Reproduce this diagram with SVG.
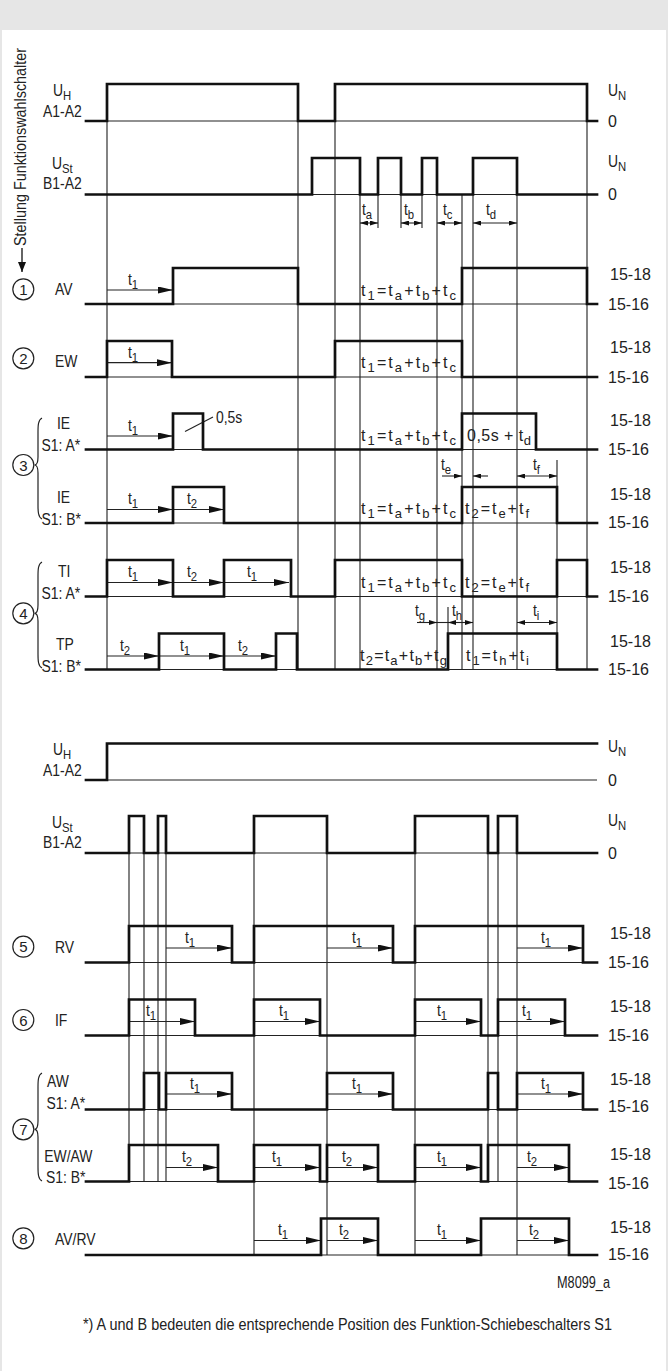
<svg xmlns="http://www.w3.org/2000/svg" width="668" height="1371" viewBox="0 0 668 1371">
<defs>
<style>
.sig{fill:none;stroke:#111;stroke-width:2.7;stroke-linejoin:miter;stroke-linecap:square}
.base{stroke:#222;stroke-width:1.2;fill:none}
.g{stroke:#333;stroke-width:1.2;fill:none}
.ar{stroke:#222;stroke-width:1.2;fill:none;marker-end:url(#a)}
.dm{stroke:#222;stroke-width:1.1;fill:none;marker-start:url(#s);marker-end:url(#s)}
.de{stroke:#222;stroke-width:1.1;fill:none;marker-end:url(#s)}
.ln{stroke:#222;stroke-width:1.1;fill:none}
.c{fill:none;stroke:#222;stroke-width:1.2}
text{font-family:"Liberation Sans",Arial,sans-serif;fill:#222;font-size:16px}
.n{transform-box:fill-box;transform-origin:0 0;transform:scaleX(.87)}
.s{font-size:13px}
.cd{font-size:15px;text-anchor:middle}
</style>
<marker id="a" viewBox="0 0 15 7" markerWidth="15" markerHeight="7" refX="15" refY="3.5" orient="auto" markerUnits="userSpaceOnUse"><path d="M0,0L15,3.5L0,7z" fill="#111"/></marker>
<marker id="s" viewBox="0 0 8 5" markerWidth="8" markerHeight="5" refX="8" refY="2.5" orient="auto-start-reverse" markerUnits="userSpaceOnUse"><path d="M0,0L8,2.5L0,5z" fill="#111"/></marker>
<marker id="dn" viewBox="0 0 10 8" markerWidth="10" markerHeight="8" refX="10" refY="4" orient="auto" markerUnits="userSpaceOnUse"><path d="M0,0L10,4L0,8z" fill="#111"/></marker>
</defs>

<g id="frame">
<rect x="0" y="0" width="668" height="1371" fill="#e6e6e6"/>
<rect x="2" y="30" width="664" height="1341" fill="#ffffff"/>
</g>

<g id="axis-label">
<text transform="translate(26,246) rotate(-90)" font-size="15" textLength="198" lengthAdjust="spacingAndGlyphs">Stellung Funktionswahlschalter</text>
<line x1="22" y1="248" x2="22" y2="272" stroke="#111" stroke-width="1.3" marker-end="url(#dn)"/>
</g>

<g id="connectors">
<path class="g" d="M107,84V669.5M298,84V669.5M335,84V669.5M360,158V669.5M378,158V228M401,158V228M422,158V228M437,158V669.5M462,194.5V669.5M473,158V669.5M517,158V669.5M557,460V669.5M587,84V669.5M448,607V669.5"/>
<path class="g" d="M129,816V1181.5M144,816V1181.5M158,816V1181.5M166,816V1181.5M254,816V1255M327,816V1255M415,816V1255M488,816V1181.5M498,816V1181.5M517,816V1255"/>
<line class="ar" x1="107" y1="290" x2="173" y2="290"/>
<line class="ar" x1="107" y1="362.7" x2="172" y2="362.7"/>
<line class="ar" x1="107" y1="436" x2="173" y2="436"/>
<line class="ar" x1="107" y1="509.5" x2="173" y2="509.5"/>
<line class="ar" x1="173" y1="509.5" x2="224" y2="509.5"/>
<line class="ar" x1="107" y1="582.5" x2="173" y2="582.5"/>
<line class="ar" x1="173" y1="582.5" x2="224" y2="582.5"/>
<line class="ar" x1="224" y1="582.5" x2="289" y2="582.5"/>
<line class="ar" x1="107" y1="656" x2="159" y2="656"/>
<line class="ar" x1="159" y1="656" x2="224" y2="656"/>
<line class="ar" x1="224" y1="656" x2="276" y2="656"/>
<line class="dm" x1="360" y1="223" x2="378" y2="223"/>
<line class="dm" x1="401" y1="223" x2="422" y2="223"/>
<line class="dm" x1="437" y1="223" x2="462" y2="223"/>
<line class="dm" x1="473" y1="223" x2="517" y2="223"/>
<line class="de" x1="442" y1="476" x2="462" y2="476"/>
<line class="de" x1="488" y1="476" x2="473" y2="476"/>
<line class="dm" x1="517" y1="476" x2="557" y2="476"/>
<line class="de" x1="417" y1="622.5" x2="437" y2="622.5"/>
<line class="ln" x1="437" y1="622.5" x2="448" y2="622.5"/>
<line class="dm" x1="448" y1="622.5" x2="473" y2="622.5"/>
<line class="dm" x1="517" y1="622.5" x2="557" y2="622.5"/>
<line class="ln" x1="185" y1="431.5" x2="213" y2="417"/>
<line class="ar" x1="166" y1="948" x2="232" y2="948"/>
<line class="ar" x1="327" y1="948" x2="393" y2="948"/>
<line class="ar" x1="517" y1="948" x2="583" y2="948"/>
<line class="ar" x1="129" y1="1021.5" x2="195" y2="1021.5"/>
<line class="ar" x1="254" y1="1021.5" x2="320" y2="1021.5"/>
<line class="ar" x1="415" y1="1021.5" x2="481" y2="1021.5"/>
<line class="ar" x1="498" y1="1021.5" x2="565" y2="1021.5"/>
<line class="ar" x1="166" y1="1094" x2="232" y2="1094"/>
<line class="ar" x1="327" y1="1094" x2="393" y2="1094"/>
<line class="ar" x1="517" y1="1094" x2="583" y2="1094"/>
<line class="ar" x1="166" y1="1167.5" x2="218" y2="1167.5"/>
<line class="ar" x1="254" y1="1167.5" x2="320" y2="1167.5"/>
<line class="ar" x1="327" y1="1167.5" x2="378" y2="1167.5"/>
<line class="ar" x1="415" y1="1167.5" x2="481" y2="1167.5"/>
<line class="ar" x1="517" y1="1167.5" x2="569" y2="1167.5"/>
<line class="ar" x1="254" y1="1240.5" x2="321" y2="1240.5"/>
<line class="ar" x1="327" y1="1240.5" x2="378" y2="1240.5"/>
<line class="ar" x1="415" y1="1240.5" x2="481" y2="1240.5"/>
<line class="ar" x1="517" y1="1240.5" x2="569" y2="1240.5"/>
</g>

<g id="row-uh-1">
<text class="n" x="53" y="96">U<tspan class="s" dy="4">H</tspan></text>
<text class="n" x="43" y="117.5">A1-A2</text>
<line class="base" x1="86" y1="121" x2="597" y2="121"/>
<path class="sig" d="M86,121H107V84H298V121H335V84H587V121H597"/>
<text class="n" x="608" y="96">U<tspan class="s" dy="4">N</tspan></text>
<text x="608" y="126.5">0</text>
</g>

<g id="row-ust-1">
<text class="n" x="52" y="169.5">U<tspan class="s" dy="4">St</tspan></text>
<text class="n" x="43" y="189.5">B1-A2</text>
<line class="base" x1="86" y1="194.5" x2="597" y2="194.5"/>
<path class="sig" d="M86,194.5H312V158H360V194.5H378V158H401V194.5H422V158H437V194.5H473V158H517V194.5H597"/>
<text class="n" x="608" y="167">U<tspan class="s" dy="4">N</tspan></text>
<text x="608" y="200">0</text>
<text class="n" x="362" y="215">t<tspan class="s" dy="4">a</tspan></text>
<text class="n" x="404" y="215">t<tspan class="s" dy="4">b</tspan></text>
<text class="n" x="443" y="215">t<tspan class="s" dy="4">c</tspan></text>
<text class="n" x="486" y="215">t<tspan class="s" dy="4">d</tspan></text>
</g>

<g id="row-1-av">
<circle class="c" cx="23.3" cy="289.3" r="10.5"/>
<text class="cd" x="23.3" y="294.8">1</text>
<text class="n" x="55" y="295.5">AV</text>
<line class="base" x1="86" y1="304" x2="597" y2="304"/>
<path class="sig" d="M86,304H173V268H298V304H462V268H587V304H597"/>
<text class="n" x="128" y="285">t<tspan class="s" dy="4">1</tspan></text>
<text x="361" y="296" textLength="95" lengthAdjust="spacing">t<tspan class="s" dy="4">1</tspan><tspan dy="-4">=t</tspan><tspan class="s" dy="4">a</tspan><tspan dy="-4">+t</tspan><tspan class="s" dy="4">b</tspan><tspan dy="-4">+t</tspan><tspan class="s" dy="4">c</tspan></text>
<text x="610" y="280">15-18</text>
<text x="608" y="309.5">15-16</text>
</g>

<g id="row-2-ew">
<circle class="c" cx="23.3" cy="358.3" r="10.5"/>
<text class="cd" x="23.3" y="363.8">2</text>
<text class="n" x="55" y="366.7">EW</text>
<line class="base" x1="86" y1="377" x2="597" y2="377"/>
<path class="sig" d="M86,377H107V341H172V377H335V341H462V377H597"/>
<text class="n" x="128" y="358">t<tspan class="s" dy="4">1</tspan></text>
<text x="361" y="368" textLength="95" lengthAdjust="spacing">t<tspan class="s" dy="4">1</tspan><tspan dy="-4">=t</tspan><tspan class="s" dy="4">a</tspan><tspan dy="-4">+t</tspan><tspan class="s" dy="4">b</tspan><tspan dy="-4">+t</tspan><tspan class="s" dy="4">c</tspan></text>
<text x="610" y="353">15-18</text>
<text x="608" y="382.5">15-16</text>
</g>

<g id="row-3-ie">
<circle class="c" cx="23.3" cy="465" r="10.5"/>
<text class="cd" x="23.3" y="470.5">3</text>
<path class="c" d="M42,418C38,420 38,426 38,432L38,457C38,462 37,465 34.5,465C37,465 38,468 38,473L38,505C38,511 38,517 42,519"/>
<text class="n" x="57" y="429">IE</text>
<text class="n" x="41.5" y="451">S1: A*</text>
<line class="base" x1="86" y1="449.5" x2="597" y2="449.5"/>
<path class="sig" d="M86,449.5H173V413.5H203V449.5H462V413.5H536V449.5H597"/>
<text class="n" x="128" y="431">t<tspan class="s" dy="4">1</tspan></text>
<text class="n" x="216" y="423">0,5s</text>
<text x="361" y="440.5" textLength="95" lengthAdjust="spacing">t<tspan class="s" dy="4">1</tspan><tspan dy="-4">=t</tspan><tspan class="s" dy="4">a</tspan><tspan dy="-4">+t</tspan><tspan class="s" dy="4">b</tspan><tspan dy="-4">+t</tspan><tspan class="s" dy="4">c</tspan></text>
<text x="467" y="440.5" textLength="64" lengthAdjust="spacing">0,5s + t<tspan class="s" dy="4">d</tspan></text>
<text x="610" y="426">15-18</text>
<text x="608" y="455">15-16</text>

<text class="n" x="57" y="503">IE</text>
<text class="n" x="41.5" y="525">S1: B*</text>
<line class="base" x1="86" y1="523" x2="597" y2="523"/>
<path class="sig" d="M86,523H173V487H224V523H462V487H557V523H597"/>
<text class="n" x="128" y="504.5">t<tspan class="s" dy="4">1</tspan></text>
<text class="n" x="187" y="504.5">t<tspan class="s" dy="4">2</tspan></text>
<text class="n" x="441" y="470">t<tspan class="s" dy="4">e</tspan></text>
<text class="n" x="533" y="470">t<tspan class="s" dy="4">f</tspan></text>
<text x="361" y="514" textLength="95" lengthAdjust="spacing">t<tspan class="s" dy="4">1</tspan><tspan dy="-4">=t</tspan><tspan class="s" dy="4">a</tspan><tspan dy="-4">+t</tspan><tspan class="s" dy="4">b</tspan><tspan dy="-4">+t</tspan><tspan class="s" dy="4">c</tspan></text>
<text x="465" y="514" textLength="64" lengthAdjust="spacing">t<tspan class="s" dy="4">2</tspan><tspan dy="-4">=t</tspan><tspan class="s" dy="4">e</tspan><tspan dy="-4">+t</tspan><tspan class="s" dy="4">f</tspan></text>
<text x="610" y="500">15-18</text>
<text x="608" y="527.5">15-16</text>
</g>

<g id="row-4-ti-tp">
<circle class="c" cx="23.3" cy="613.3" r="10.5"/>
<text class="cd" x="23.3" y="618.8">4</text>
<path class="c" d="M42,562C38,564 38,570 38,576L38,605C38,610 37,613.3 34.5,613.3C37,613.3 38,616 38,621L38,654C38,660 38,666 42,668"/>
<text class="n" x="58" y="577">TI</text>
<text class="n" x="41.5" y="599">S1: A*</text>
<line class="base" x1="86" y1="596.5" x2="597" y2="596.5"/>
<path class="sig" d="M86,596.5H107V560H173V596.5H224V560H291V596.5H335V560H462V596.5H557V560H587V596.5H597"/>
<text class="n" x="128" y="577.5">t<tspan class="s" dy="4">1</tspan></text>
<text class="n" x="187" y="577.5">t<tspan class="s" dy="4">2</tspan></text>
<text class="n" x="247" y="577.5">t<tspan class="s" dy="4">1</tspan></text>
<text x="361" y="587.5" textLength="95" lengthAdjust="spacing">t<tspan class="s" dy="4">1</tspan><tspan dy="-4">=t</tspan><tspan class="s" dy="4">a</tspan><tspan dy="-4">+t</tspan><tspan class="s" dy="4">b</tspan><tspan dy="-4">+t</tspan><tspan class="s" dy="4">c</tspan></text>
<text x="465" y="587.5" textLength="64" lengthAdjust="spacing">t<tspan class="s" dy="4">2</tspan><tspan dy="-4">=t</tspan><tspan class="s" dy="4">e</tspan><tspan dy="-4">+t</tspan><tspan class="s" dy="4">f</tspan></text>
<text x="610" y="573">15-18</text>
<text x="608" y="601.5">15-16</text>

<text class="n" x="56" y="650">TP</text>
<text class="n" x="41.5" y="672">S1: B*</text>
<line class="base" x1="86" y1="669.5" x2="597" y2="669.5"/>
<path class="sig" d="M86,669.5H159V633.5H224V669.5H276V633.5H297V669.5H448V633.5H557V669.5H597"/>
<text class="n" x="120" y="651">t<tspan class="s" dy="4">2</tspan></text>
<text class="n" x="180" y="651">t<tspan class="s" dy="4">1</tspan></text>
<text class="n" x="238" y="651">t<tspan class="s" dy="4">2</tspan></text>
<text class="n" x="415" y="616">t<tspan class="s" dy="4">g</tspan></text>
<text class="n" x="452" y="616">t<tspan class="s" dy="4">h</tspan></text>
<text class="n" x="533" y="616">t<tspan class="s" dy="4">i</tspan></text>
<text x="360" y="661" textLength="87" lengthAdjust="spacing">t<tspan class="s" dy="4">2</tspan><tspan dy="-4">=t</tspan><tspan class="s" dy="4">a</tspan><tspan dy="-4">+t</tspan><tspan class="s" dy="4">b</tspan><tspan dy="-4">+t</tspan><tspan class="s" dy="4">g</tspan></text>
<text x="466" y="661" textLength="63" lengthAdjust="spacing">t<tspan class="s" dy="4">1</tspan><tspan dy="-4">=t</tspan><tspan class="s" dy="4">h</tspan><tspan dy="-4">+t</tspan><tspan class="s" dy="4">i</tspan></text>
<text x="610" y="646.5">15-18</text>
<text x="608" y="675">15-16</text>
</g>

<g id="row-uh-2">
<text class="n" x="53" y="755">U<tspan class="s" dy="4">H</tspan></text>
<text class="n" x="43" y="776">A1-A2</text>
<line class="base" x1="86" y1="780" x2="597" y2="780"/>
<path class="sig" d="M86,780H107V743.5H597"/>
<text class="n" x="608" y="752">U<tspan class="s" dy="4">N</tspan></text>
<text x="608" y="786">0</text>
</g>

<g id="row-ust-2">
<text class="n" x="52" y="828">U<tspan class="s" dy="4">St</tspan></text>
<text class="n" x="43" y="848">B1-A2</text>
<line class="base" x1="86" y1="853" x2="597" y2="853"/>
<path class="sig" d="M86,853H129V816H144V853H158V816H166V853H254V816H327V853H415V816H488V853H498V816H517V853H597"/>
<text class="n" x="608" y="826">U<tspan class="s" dy="4">N</tspan></text>
<text x="608" y="858.5">0</text>
</g>

<g id="row-5-rv">
<circle class="c" cx="23.3" cy="946.7" r="10.5"/>
<text class="cd" x="23.3" y="952.2">5</text>
<text class="n" x="55" y="953">RV</text>
<line class="base" x1="86" y1="962.5" x2="597" y2="962.5"/>
<path class="sig" d="M86,962.5H129V926H232V962.5H254V926H393V962.5H415V926H583V962.5H597"/>
<text class="n" x="185" y="943">t<tspan class="s" dy="4">1</tspan></text>
<text class="n" x="352" y="943">t<tspan class="s" dy="4">1</tspan></text>
<text class="n" x="541" y="943">t<tspan class="s" dy="4">1</tspan></text>
<text x="610" y="938.5">15-18</text>
<text x="608" y="968">15-16</text>
</g>

<g id="row-6-if">
<circle class="c" cx="23.3" cy="1020" r="10.5"/>
<text class="cd" x="23.3" y="1025.5">6</text>
<text class="n" x="55" y="1025.7">IF</text>
<line class="base" x1="86" y1="1035.5" x2="597" y2="1035.5"/>
<path class="sig" d="M86,1035.5H129V999.5H195V1035.5H254V999.5H320V1035.5H415V999.5H481V1035.5H498V999.5H565V1035.5H597"/>
<text class="n" x="146" y="1016.5">t<tspan class="s" dy="4">1</tspan></text>
<text class="n" x="279" y="1016.5">t<tspan class="s" dy="4">1</tspan></text>
<text class="n" x="437" y="1016.5">t<tspan class="s" dy="4">1</tspan></text>
<text class="n" x="522" y="1016.5">t<tspan class="s" dy="4">1</tspan></text>
<text x="610" y="1012">15-18</text>
<text x="608" y="1041">15-16</text>
</g>

<g id="row-7-aw">
<circle class="c" cx="23.3" cy="1129.3" r="10.5"/>
<text class="cd" x="23.3" y="1134.8">7</text>
<path class="c" d="M42,1073C38,1075 38,1081 38,1087L38,1121C38,1126 37,1129.3 34.5,1129.3C37,1129.3 38,1132 38,1137L38,1167C38,1173 38,1179 42,1181"/>
<text class="n" x="47" y="1086.7">AW</text>
<text class="n" x="46.5" y="1108.7">S1: A*</text>
<line class="base" x1="86" y1="1109.5" x2="597" y2="1109.5"/>
<path class="sig" d="M86,1109.5H144V1073H159V1109.5H166V1073H232V1109.5H327V1073H393V1109.5H488V1073H498V1109.5H517V1073H583V1109.5H597"/>
<text class="n" x="190" y="1089">t<tspan class="s" dy="4">1</tspan></text>
<text class="n" x="352" y="1089">t<tspan class="s" dy="4">1</tspan></text>
<text class="n" x="541" y="1089">t<tspan class="s" dy="4">1</tspan></text>
<text x="610" y="1085">15-18</text>
<text x="608" y="1112">15-16</text>

<text class="n" x="44.3" y="1161.7">EW/AW</text>
<text class="n" x="46" y="1183">S1: B*</text>
<line class="base" x1="86" y1="1181.5" x2="597" y2="1181.5"/>
<path class="sig" d="M86,1181.5H129V1145H218V1181.5H254V1145H320V1181.5H327V1145H378V1181.5H415V1145H481V1181.5H488V1145H569V1181.5H597"/>
<text class="n" x="182" y="1162.5">t<tspan class="s" dy="4">2</tspan></text>
<text class="n" x="272" y="1162.5">t<tspan class="s" dy="4">1</tspan></text>
<text class="n" x="342" y="1162.5">t<tspan class="s" dy="4">2</tspan></text>
<text class="n" x="437" y="1162.5">t<tspan class="s" dy="4">1</tspan></text>
<text class="n" x="527" y="1162.5">t<tspan class="s" dy="4">2</tspan></text>
<text x="610" y="1160">15-18</text>
<text x="608" y="1188.5">15-16</text>
</g>

<g id="row-8-avrv">
<circle class="c" cx="23.3" cy="1238.3" r="10.5"/>
<text class="cd" x="23.3" y="1243.8">8</text>
<text class="n" x="55" y="1245">AV/RV</text>
<line class="base" x1="86" y1="1255" x2="597" y2="1255"/>
<path class="sig" d="M86,1255H321V1218.5H378V1255H481V1218.5H569V1255H597"/>
<text class="n" x="278" y="1235.5">t<tspan class="s" dy="4">1</tspan></text>
<text class="n" x="339" y="1235.5">t<tspan class="s" dy="4">2</tspan></text>
<text class="n" x="437" y="1235.5">t<tspan class="s" dy="4">1</tspan></text>
<text class="n" x="529" y="1235.5">t<tspan class="s" dy="4">2</tspan></text>
<text x="610" y="1233">15-18</text>
<text x="608" y="1260">15-16</text>
</g>

<g id="notes">
<text x="557" y="1288" font-size="14" textLength="53" lengthAdjust="spacingAndGlyphs">M8099_a</text>
<text x="83" y="1330" textLength="529" lengthAdjust="spacingAndGlyphs">*) A und B bedeuten die entsprechende Position des Funktion-Schiebeschalters S1</text>
</g>
</svg>
